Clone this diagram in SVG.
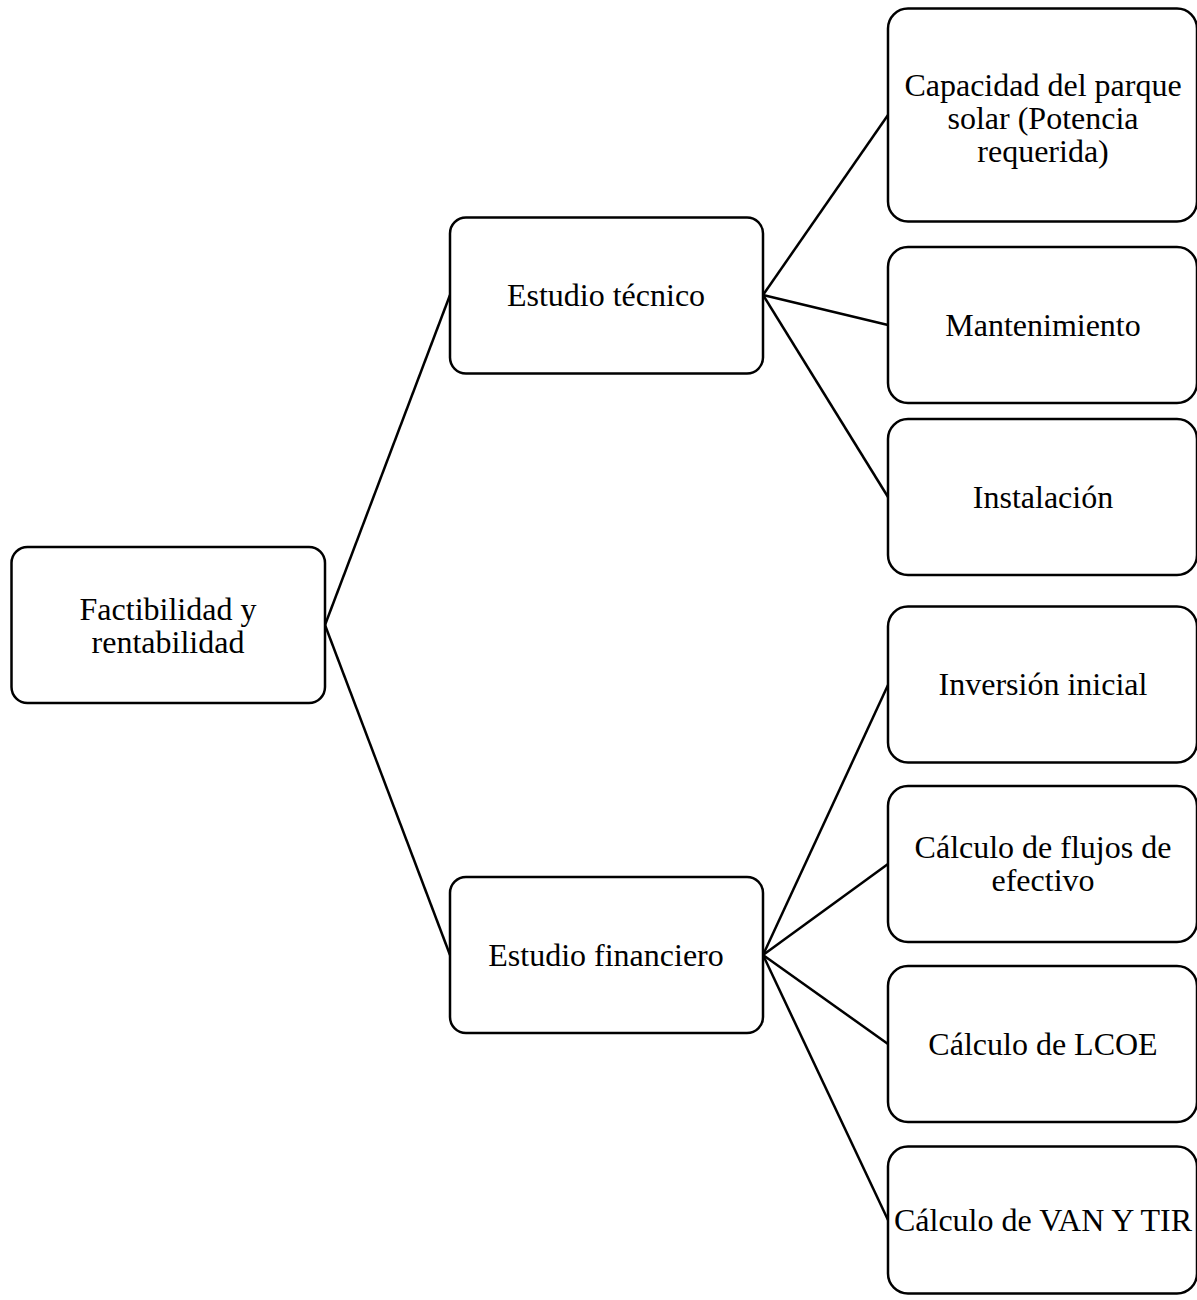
<svg xmlns="http://www.w3.org/2000/svg" width="1197" height="1300" viewBox="0 0 1197 1300">
  <style>
    .box { fill: #ffffff; stroke: #000000; stroke-width: 2.5; }
    .lbl { font-family: "Liberation Serif", "Times New Roman", serif; font-size: 32px; fill: #000000; text-anchor: middle; }
    .link { stroke: #000000; stroke-width: 2.5; fill: none; }
  </style>
  <rect width="1197" height="1300" fill="#ffffff"/>

  <g id="connectors">
    <line class="link" x1="325" y1="625" x2="450" y2="295"/>
    <line class="link" x1="325" y1="625" x2="450" y2="955"/>
    <line class="link" x1="763" y1="295" x2="888" y2="115"/>
    <line class="link" x1="763" y1="295" x2="888" y2="325"/>
    <line class="link" x1="763" y1="295" x2="888" y2="497"/>
    <line class="link" x1="763" y1="955" x2="888" y2="685"/>
    <line class="link" x1="763" y1="955" x2="888" y2="864"/>
    <line class="link" x1="763" y1="955" x2="888" y2="1044"/>
    <line class="link" x1="763" y1="955" x2="888" y2="1220"/>
  </g>

  <g id="node-root">
    <rect class="box" x="11.5" y="547" width="313.5" height="156" rx="16"/>
    <text class="lbl" x="168" y="620">Factibilidad y</text>
    <text class="lbl" x="168" y="653">rentabilidad</text>
  </g>

  <g id="node-tecnico">
    <rect class="box" x="450" y="217.5" width="313" height="156" rx="16"/>
    <text class="lbl" x="606" y="306">Estudio técnico</text>
  </g>

  <g id="node-financiero">
    <rect class="box" x="450" y="877" width="313" height="156" rx="16"/>
    <text class="lbl" x="606" y="966">Estudio financiero</text>
  </g>

  <g id="node-capacidad">
    <rect class="box" x="888" y="8.5" width="309" height="213" rx="20"/>
    <text class="lbl" x="1043" y="96">Capacidad del parque</text>
    <text class="lbl" x="1043" y="129">solar (Potencia</text>
    <text class="lbl" x="1043" y="162">requerida)</text>
  </g>

  <g id="node-mantenimiento">
    <rect class="box" x="888" y="247" width="309" height="156" rx="20"/>
    <text class="lbl" x="1043" y="336">Mantenimiento</text>
  </g>

  <g id="node-instalacion">
    <rect class="box" x="888" y="419" width="309" height="156" rx="20"/>
    <text class="lbl" x="1043" y="508">Instalación</text>
  </g>

  <g id="node-inversion">
    <rect class="box" x="888" y="606.5" width="309" height="156" rx="20"/>
    <text class="lbl" x="1043" y="695">Inversión inicial</text>
  </g>

  <g id="node-flujos">
    <rect class="box" x="888" y="786" width="309" height="156" rx="20"/>
    <text class="lbl" x="1043" y="858">Cálculo de flujos de</text>
    <text class="lbl" x="1043" y="891">efectivo</text>
  </g>

  <g id="node-lcoe">
    <rect class="box" x="888" y="966" width="309" height="156" rx="20"/>
    <text class="lbl" x="1043" y="1055">Cálculo de LCOE</text>
  </g>

  <g id="node-van-tir">
    <rect class="box" x="888" y="1146.5" width="309" height="147" rx="20"/>
    <text class="lbl" x="1043" y="1231">Cálculo de VAN Y TIR</text>
  </g>
</svg>
